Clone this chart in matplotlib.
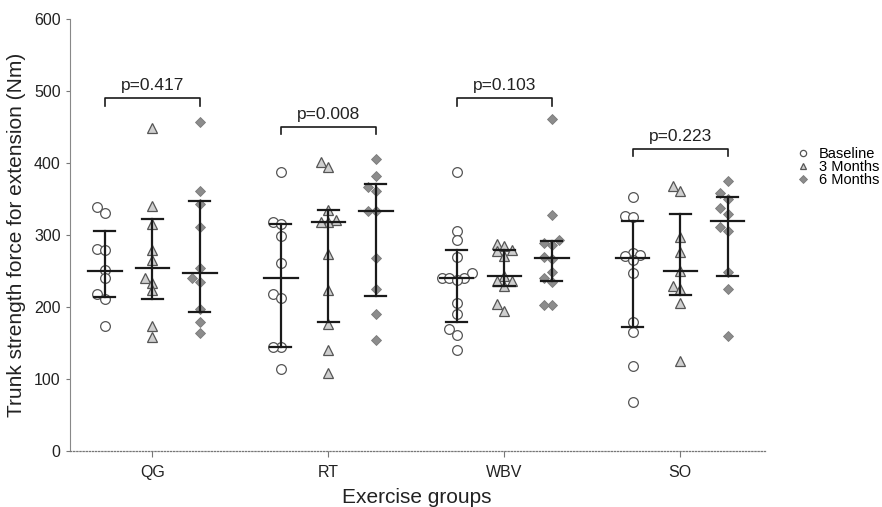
#!/usr/bin/env python3
"""Trunk extension strength per exercise group, baseline / 3 / 6 months."""

import numpy as np
import matplotlib
matplotlib.use("Agg")
import matplotlib.pyplot as plt

plt.rcParams["font.family"] = ["Liberation Sans", "DejaVu Sans"]

groups = ["QG", "RT", "WBV", "SO"]
times = ["Baseline", "3 Months", "6 Months"]

# individual values (Nm), one list per group and time point
qg_base = [339, 331, 281, 280, 252, 241, 218, 211, 174]
qg_3m = [449, 341, 315, 279, 266, 241, 234, 224, 174, 159]
qg_6m = [457, 361, 343, 312, 255, 241, 235, 197, 179, 164]

rt_base = [388, 318, 316, 299, 261, 219, 213, 145, 145, 114]
rt_3m = [402, 395, 335, 321, 318, 318, 274, 224, 177, 141, 109]
rt_6m = [406, 382, 367, 361, 333, 333, 268, 225, 190, 155]

wbv_base = [388, 306, 293, 270, 247, 240, 240, 240, 238, 206, 190, 170, 161, 140]
wbv_3m = [288, 285, 279, 278, 271, 244, 236, 236, 229, 204, 195]
wbv_6m = [461, 328, 293, 289, 286, 270, 267, 249, 241, 235, 203, 203]

so_base = [353, 327, 325, 275, 272, 271, 265, 247, 180, 166, 119, 68]
so_3m = [368, 362, 298, 277, 250, 229, 226, 206, 125]
so_6m = [375, 358, 351, 338, 329, 312, 306, 249, 226, 160]

# centre line and error bar ends
centre = [[251, 254, 248], [240, 318, 333], [241, 244, 268], [268, 251, 320]]
err_lo = [[214, 212, 193], [145, 179, 216], [180, 230, 236], [173, 217, 243]]
err_hi = [[306, 322, 347], [316, 335, 371], [280, 280, 292], [320, 330, 353]]

p_values = ["p=0.417", "p=0.008", "p=0.103", "p=0.223"]
bracket_y = [490, 450, 490, 420]

data = [
    [qg_base, qg_3m, qg_6m],
    [rt_base, rt_3m, rt_6m],
    [wbv_base, wbv_3m, wbv_6m],
    [so_base, so_3m, so_6m],
]

markers = [
    dict(marker="o", mfc="white", mec="#555555", ms=7, mew=0.9),
    dict(marker="^", mfc="#cfcfcf", mec="#555555", ms=6.5, mew=0.9),
    dict(marker="D", mfc="#8c8c8c", mec="#7a7a7a", ms=5.3, mew=0.6),
]

offsets = [-0.27, 0.0, 0.27]
step = 0.042         # sideways step, in x units (~7.4 px)
px_x = 176.0         # px per x unit
px_y = 0.72          # px per Nm


def swarm(values, dist=7.0):
    """Greedy beeswarm: push a point sideways until it clears the others."""
    vals = np.asarray(values, dtype=float)
    xs = np.zeros(len(vals))
    placed = []
    cands = [0]
    for k in range(1, 8):
        cands += [-k, k]
    for idx in np.argsort(vals):
        for k in cands:
            ok = True
            for j, kj in placed:
                dx = (k - kj) * step * px_x
                dy = (vals[idx] - vals[j]) * px_y
                if dx * dx + dy * dy < dist * dist:
                    ok = False
                    break
            if ok:
                break
        placed.append((idx, k))
        xs[idx] = k * step
    return xs


fig = plt.figure(figsize=(8.82, 5.07), dpi=100)
ax = fig.add_axes([0.079, 0.11, 0.788, 0.852])

for g, gdata in enumerate(data):
    for t, vals in enumerate(gdata):
        xc = g + offsets[t]
        ax.plot(xc + swarm(vals), vals, ls="none", zorder=2, **markers[t])
        ax.plot([xc, xc], [err_lo[g][t], err_hi[g][t]], color="#1a1a1a", lw=1.6, zorder=3)
        for yv in (err_lo[g][t], err_hi[g][t]):
            ax.plot([xc - 0.06, xc + 0.06], [yv, yv], color="#1a1a1a", lw=1.6, zorder=3)
        ax.plot([xc - 0.095, xc + 0.095], [centre[g][t]] * 2, color="#1a1a1a", lw=1.6, zorder=3)
    # bracket between baseline and 6 months
    x0, x1 = g + offsets[0], g + offsets[2]
    yb = bracket_y[g]
    ax.plot([x0, x0, x1, x1], [yb - 10, yb, yb, yb - 10], color="#1a1a1a", lw=1.2)
    ax.text(g, yb + 7, p_values[g], ha="center", va="bottom", fontsize=12.5, color="#222222")

ax.set_xlim(-0.47, 3.48)
ax.set_ylim(0, 600)
ax.set_yticks(range(0, 601, 100))
ax.set_xticks(range(len(groups)))
ax.set_xticklabels(groups)
ax.tick_params(axis="both", colors="#777777", labelcolor="#222222", labelsize=11.5, length=3)
ax.tick_params(axis="x", length=4, pad=6)

for side in ("top", "right"):
    ax.spines[side].set_visible(False)
ax.spines["left"].set_color("#888888")
ax.spines["bottom"].set_color("#777777")
ax.spines["bottom"].set_linestyle((0, (1, 1.5)))
ax.spines["bottom"].set_linewidth(0.9)

ax.set_ylabel("Trunk strength force for extension (Nm)", fontsize=15, color="#222222", labelpad=6)
ax.set_xlabel("Exercise groups", fontsize=15, color="#222222", labelpad=6)

handles = [plt.Line2D([], [], ls="none", **m) for m in markers]
handles[0].set_markersize(4.5)
handles[1].set_markersize(4.5)
handles[2].set_markersize(3.8)
fig.legend(handles, times, loc="center left", bbox_to_anchor=(0.897, 0.6706),
           frameon=False, fontsize=10.5, handletextpad=0.7, labelspacing=-0.05,
           handlelength=0.8, borderaxespad=0)

fig.savefig("out.png", dpi=100)
